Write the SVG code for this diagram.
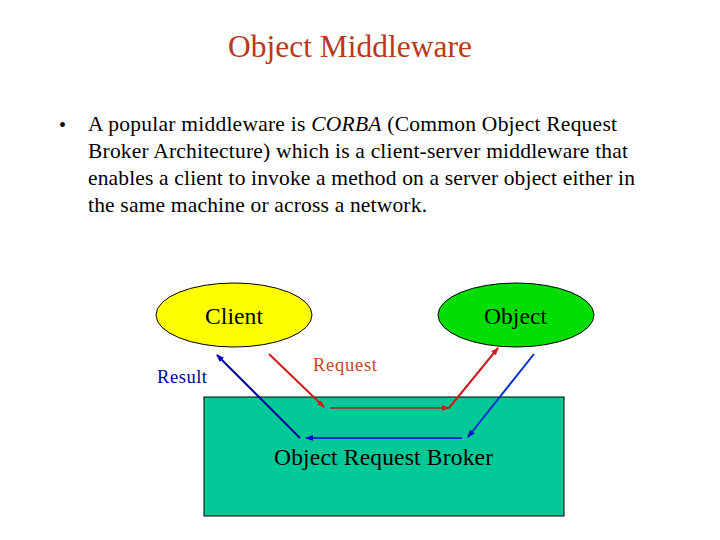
<svg xmlns="http://www.w3.org/2000/svg" width="720" height="540" viewBox="0 0 720 540">
<style>
text{font-family:"Liberation Serif","Times New Roman",serif}
.para{font-size:21.5px;fill:#000}
.node{font-size:23.5px;fill:#000}
.c{stroke-width:2;fill:none}
</style>
<defs>
<marker id="ar" markerWidth="8" markerHeight="8" refX="7" refY="4" orient="auto" markerUnits="userSpaceOnUse"><path d="M0,1 L8,4 L0,7 z" fill="#cc1a1a"/></marker>
<marker id="ab" markerWidth="8" markerHeight="8" refX="7" refY="4" orient="auto" markerUnits="userSpaceOnUse"><path d="M0,1 L8,4 L0,7 z" fill="#0000cc"/></marker>
</defs>
<rect width="720" height="540" fill="#fff"/>
<text x="228" y="57" font-size="31" fill="#b83a1a" textLength="244" lengthAdjust="spacingAndGlyphs">Object Middleware</text>
<text x="59" y="132" font-size="20" fill="#000">•</text>
<text class="para" x="88" y="131" textLength="529" lengthAdjust="spacing">A popular middleware is <tspan font-style="italic">CORBA</tspan> (Common Object Request</text>
<text class="para" x="88" y="158" textLength="540" lengthAdjust="spacing">Broker Architecture) which is a client-server middleware that</text>
<text class="para" x="88" y="185" textLength="547" lengthAdjust="spacing">enables a client to invoke a method on a server object either in</text>
<text class="para" x="88" y="212" textLength="339" lengthAdjust="spacing">the same machine or across a network.</text>
<g id="orb"><rect x="204" y="397" width="360" height="119" fill="#00c896" stroke="#000" stroke-width="1"/><text x="274" y="465" class="node" textLength="219" lengthAdjust="spacing">Object Request Broker</text></g>
<g id="client"><ellipse cx="234" cy="315" rx="78" ry="32" fill="#ffff00" stroke="#000" stroke-width="1"/><text x="205" y="324" class="node" textLength="58" lengthAdjust="spacing">Client</text></g>
<g id="object"><ellipse cx="516" cy="315" rx="78" ry="32" fill="#00dd00" stroke="#000" stroke-width="1"/><text x="484" y="324" class="node" textLength="63" lengthAdjust="spacing">Object</text></g>
<g id="connectors">
<line x1="269" y1="354" x2="324" y2="407" class="c" stroke="#cc1a1a" marker-end="url(#ar)"/>
<line x1="330" y1="408" x2="449" y2="408" class="c" stroke="#7a4a3a" marker-end="url(#ar)"/>
<line x1="449" y1="408" x2="498" y2="348" class="c" stroke="#cc1a1a" marker-end="url(#ar)"/>
<line x1="534" y1="354" x2="468" y2="437" class="c" stroke="#0033cc" marker-end="url(#ab)"/>
<line x1="462" y1="438" x2="306" y2="438" class="c" stroke="#0033cc" marker-end="url(#ab)"/>
<line x1="300" y1="438" x2="217" y2="355" class="c" stroke="#000099" marker-end="url(#ab)"/>
<text x="157" y="383" font-size="18.5" fill="#000099" textLength="50" lengthAdjust="spacing">Result</text>
<text x="313" y="371" font-size="18.5" fill="#c8461e" textLength="64" lengthAdjust="spacing">Request</text>
</g>
</svg>
